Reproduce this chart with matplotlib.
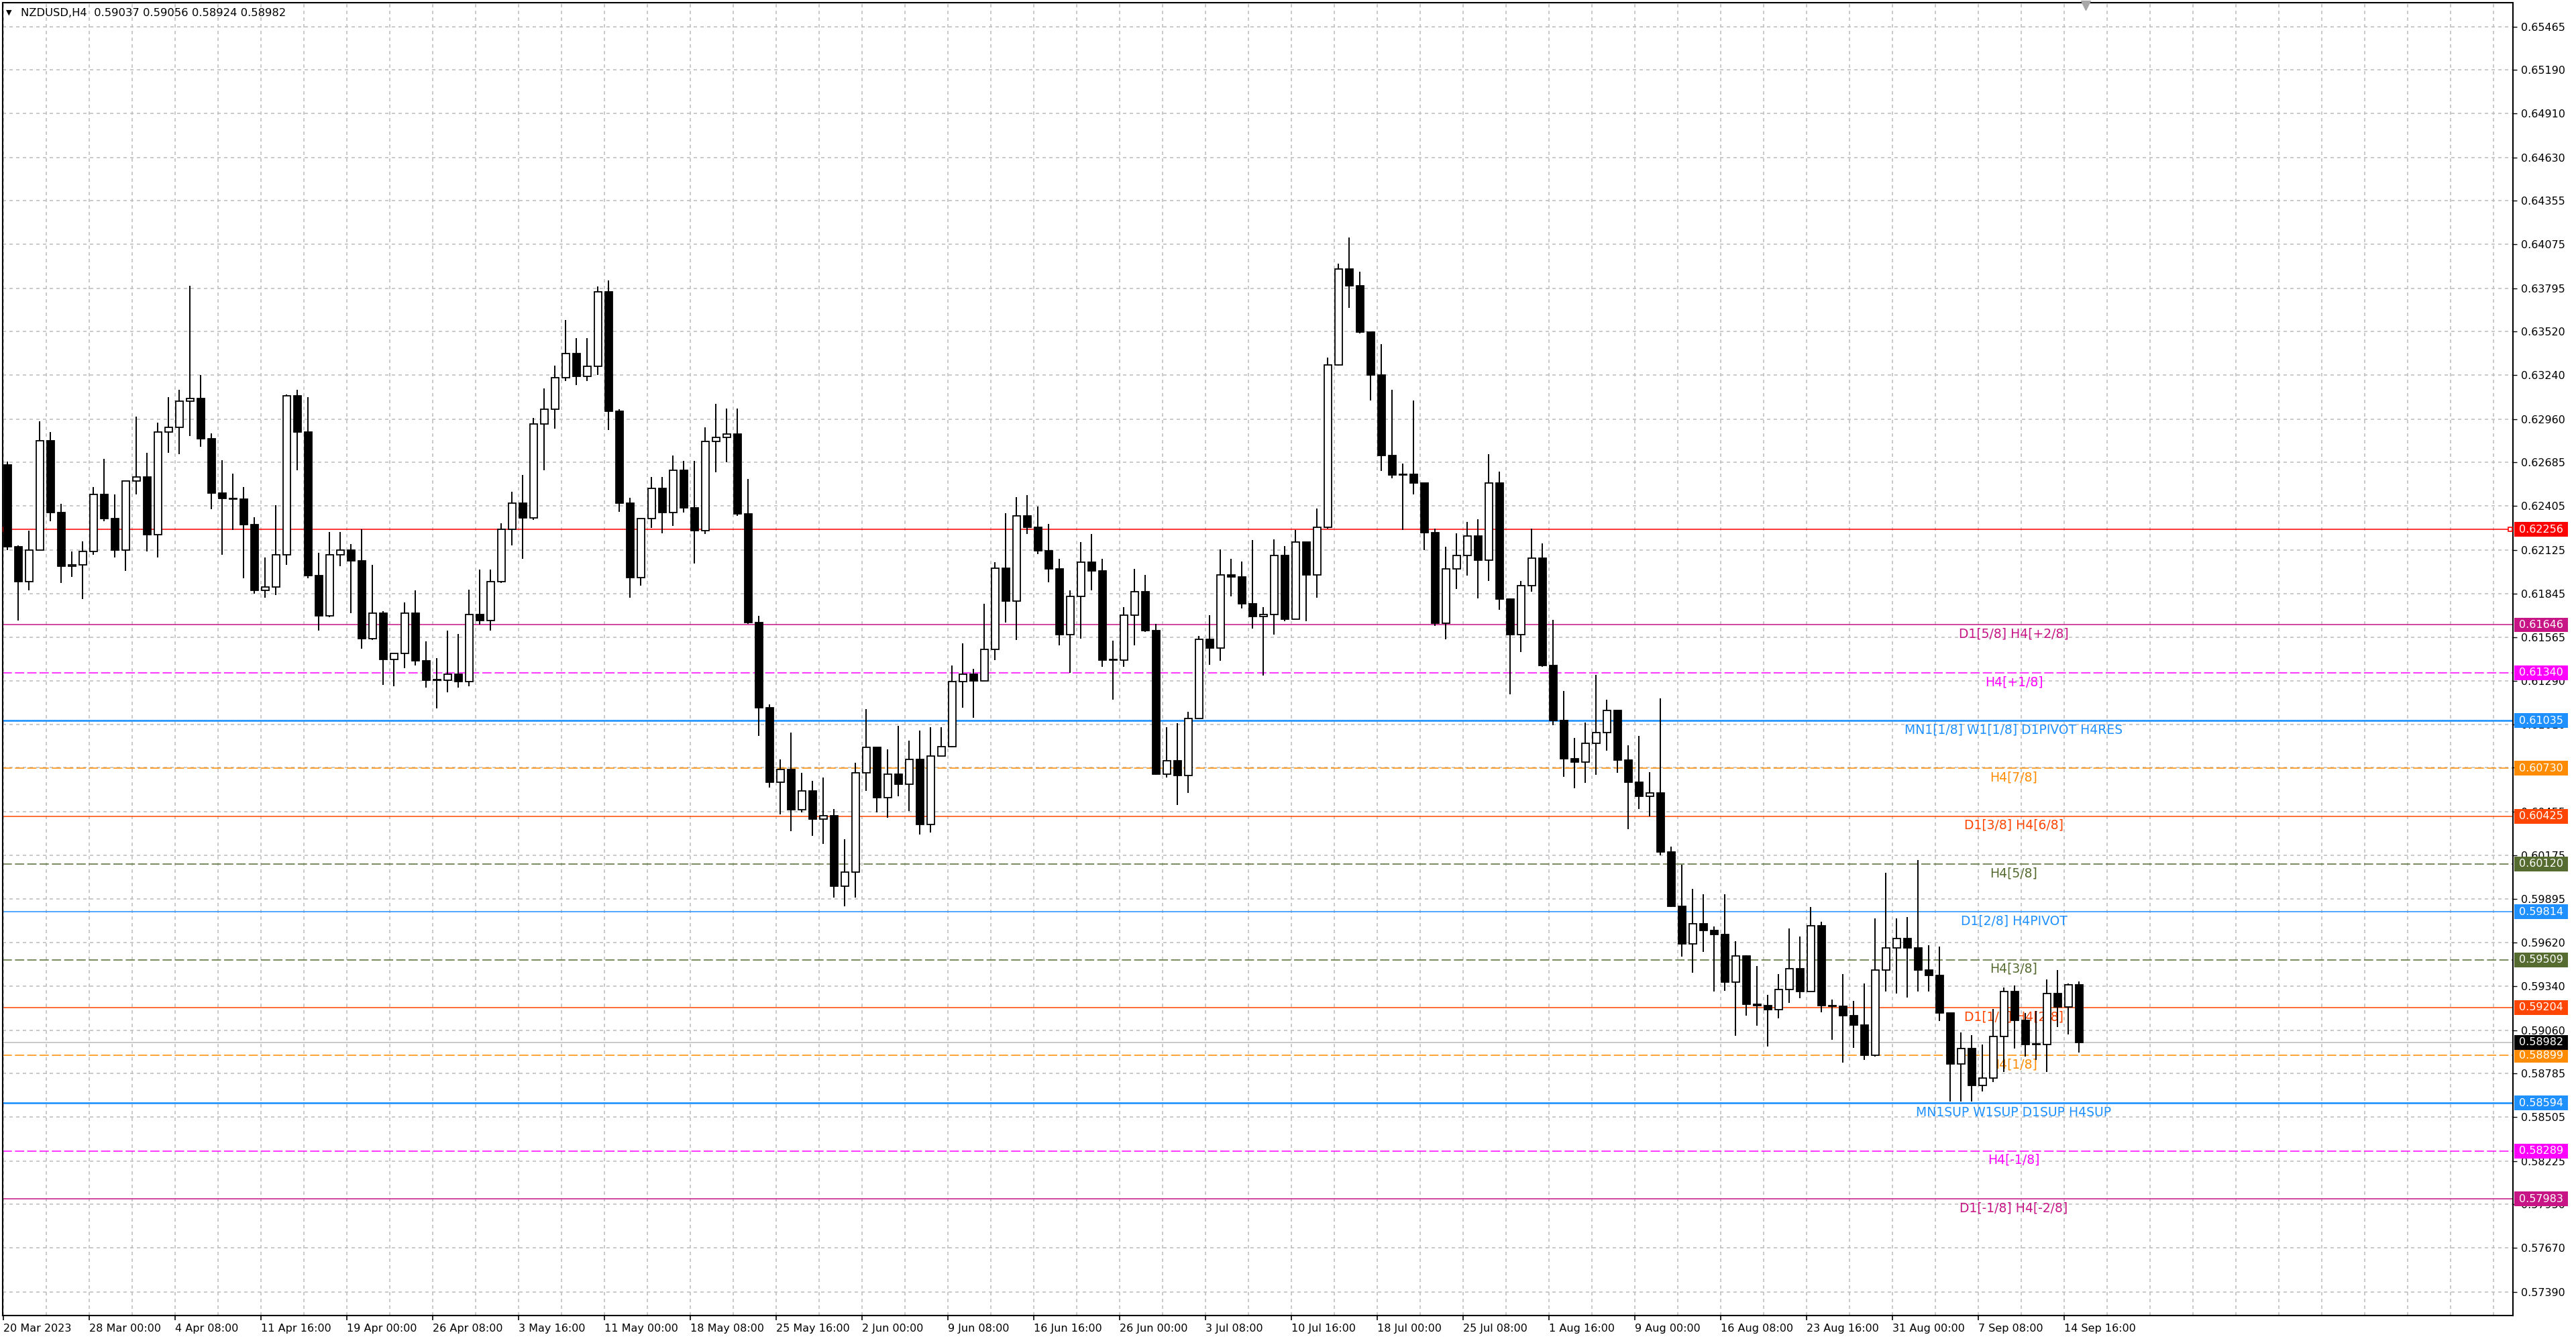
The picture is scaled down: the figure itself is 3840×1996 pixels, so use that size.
import numpy as np
import matplotlib.pyplot as plt
import matplotlib.transforms as mtransforms
from matplotlib.patches import Rectangle

# NZDUSD H4 in 4-bar steps (each step = 16 hours)
first_open = 0.62669

grp_high = [0.62688, 0.62153, 0.62248, 0.62946, 0.62879, 0.62420, 0.62115, 0.62181, 0.62525, 0.62707,
            0.62478, 0.62497, 0.62975, 0.62745, 0.62936, 0.63099, 0.63147, 0.63810, 0.63242, 0.62869,
            0.62697, 0.62611, 0.62525, 0.62334, 0.62076, 0.62411, 0.63118, 0.63147, 0.63099, 0.62105,
            0.62239, 0.62239, 0.62162, 0.62256, 0.62029, 0.61732, 0.61465, 0.61790, 0.61866, 0.61541,
            0.61436, 0.61608, 0.61589, 0.61870, 0.62000, 0.62000, 0.62296, 0.62497, 0.62602, 0.62965,
            0.63156, 0.63299, 0.63590, 0.63475, 0.63475, 0.63806, 0.63844, 0.63022, 0.62459, 0.62296,
            0.62592, 0.62592, 0.62726, 0.62692, 0.62692, 0.62908, 0.63057, 0.63025, 0.63025, 0.62578,
            0.61704, 0.61140, 0.60789, 0.60959, 0.60703, 0.60650, 0.60672, 0.60469, 0.60278, 0.60767,
            0.61108, 0.60746, 0.60853, 0.61002, 0.60906, 0.60970, 0.60991, 0.60991, 0.61389, 0.61530,
            0.61364, 0.61779, 0.62045, 0.62360, 0.62460, 0.62475, 0.62403, 0.62290, 0.62066, 0.61867,
            0.62173, 0.62227, 0.62066, 0.61545, 0.61760, 0.62005, 0.61966, 0.61652, 0.60994, 0.61017,
            0.61093, 0.61576, 0.61706, 0.62127, 0.62066, 0.62051, 0.62189, 0.61760, 0.62192, 0.62150,
            0.62250, 0.62143, 0.62388, 0.63350, 0.63951, 0.64117, 0.63899, 0.63457, 0.63437, 0.63146,
            0.62675, 0.63080, 0.62395, 0.62260, 0.62146, 0.62229, 0.62302, 0.62322, 0.62737, 0.62623,
            0.61814, 0.61928, 0.62260, 0.62167, 0.61679, 0.61224, 0.60923, 0.61022, 0.61328, 0.61167,
            0.61096, 0.60877, 0.60938, 0.60707, 0.61177, 0.60230, 0.60115, 0.59963, 0.59926, 0.59720,
            0.59926, 0.59629, 0.59538, 0.59467, 0.59285, 0.59417, 0.59710, 0.59659, 0.59846, 0.59750,
            0.59255, 0.59417, 0.59245, 0.59356, 0.59771, 0.60064, 0.59771, 0.59783, 0.60147, 0.59600,
            0.59595, 0.59169, 0.59043, 0.59030, 0.58968, 0.59194, 0.59332, 0.59344, 0.59169, 0.59181,
            0.59382, 0.59445, 0.59357, 0.59370]

grp_low = [0.62124, 0.61675, 0.61866, 0.62143, 0.62306, 0.61914, 0.61952, 0.61809, 0.62095, 0.62306,
           0.62076, 0.61990, 0.62478, 0.62115, 0.62076, 0.62745, 0.62736, 0.62850, 0.62783, 0.62386,
           0.62095, 0.62252, 0.61943, 0.61847, 0.61818, 0.61837, 0.62029, 0.62631, 0.61943, 0.61608,
           0.61694, 0.62019, 0.61723, 0.61494, 0.61551, 0.61264, 0.61255, 0.61369, 0.61388, 0.61245,
           0.61111, 0.61216, 0.61245, 0.61255, 0.61646, 0.61608, 0.61914, 0.62153, 0.62067, 0.62315,
           0.62631, 0.62898, 0.63204, 0.63175, 0.63204, 0.63242, 0.62889, 0.62367, 0.61818, 0.61895,
           0.62264, 0.62229, 0.62277, 0.62363, 0.62038, 0.62226, 0.62620, 0.62684, 0.62343, 0.61651,
           0.60938, 0.60608, 0.60437, 0.60331, 0.60448, 0.60299, 0.60246, 0.59905, 0.59852, 0.59905,
           0.60586, 0.60448, 0.60416, 0.60554, 0.60459, 0.60309, 0.60320, 0.60842, 0.60863, 0.61119,
           0.61055, 0.61364, 0.61423, 0.61662, 0.61551, 0.62226, 0.62098, 0.61917, 0.61515, 0.61338,
           0.61560, 0.61867, 0.61377, 0.61170, 0.61377, 0.61515, 0.61599, 0.60687, 0.60672, 0.60496,
           0.60572, 0.61262, 0.61392, 0.61415, 0.61829, 0.61752, 0.61622, 0.61323, 0.61583, 0.61668,
           0.62012, 0.61668, 0.61821, 0.62260, 0.63300, 0.63671, 0.63505, 0.63080, 0.62627, 0.62582,
           0.62250, 0.62478, 0.62125, 0.61638, 0.61555, 0.61876, 0.61959, 0.61814, 0.61928, 0.61741,
           0.61202, 0.61472, 0.61856, 0.61378, 0.61005, 0.60675, 0.60604, 0.60639, 0.60691, 0.60843,
           0.60701, 0.60343, 0.60469, 0.60424, 0.60175, 0.59846, 0.59528, 0.59427, 0.59558, 0.59305,
           0.59311, 0.59022, 0.59154, 0.59089, 0.58955, 0.59133, 0.59235, 0.59265, 0.59305, 0.59174,
           0.58996, 0.58854, 0.58947, 0.58870, 0.58893, 0.59307, 0.59294, 0.59269, 0.59307, 0.59307,
           0.59119, 0.58605, 0.58605, 0.58605, 0.58667, 0.58730, 0.58793, 0.58943, 0.58893, 0.58868,
           0.58793, 0.59081, 0.59031, 0.58918]

grp_close = [0.62143, 0.61923, 0.62124, 0.62822, 0.62363, 0.62019, 0.62029, 0.62115, 0.62478, 0.62325,
             0.62124, 0.62564, 0.62592, 0.62220, 0.62879, 0.62908, 0.63074, 0.63093, 0.62835, 0.62487,
             0.62455, 0.62449, 0.62287, 0.61866, 0.61889, 0.62095, 0.63108, 0.62879, 0.61962, 0.61704,
             0.62095, 0.62124, 0.62057, 0.61560, 0.61723, 0.61427, 0.61465, 0.61723, 0.61417, 0.61293,
             0.61293, 0.61331, 0.61283, 0.61713, 0.61675, 0.61923, 0.62258, 0.62424, 0.62329, 0.62927,
             0.63022, 0.63223, 0.63376, 0.63233, 0.63296, 0.63773, 0.63009, 0.62424, 0.61946, 0.62325,
             0.62516, 0.62363, 0.62631, 0.62392, 0.62248, 0.62816, 0.62844, 0.62865, 0.62354, 0.61662,
             0.61119, 0.60640, 0.60725, 0.60465, 0.60586, 0.60405, 0.60427, 0.59979, 0.60069, 0.60703,
             0.60863, 0.60544, 0.60693, 0.60629, 0.60789, 0.60373, 0.60810, 0.60870, 0.61283, 0.61332,
             0.61289, 0.61491, 0.62007, 0.61800, 0.62343, 0.62269, 0.62120, 0.62003, 0.61583, 0.61829,
             0.62048, 0.61989, 0.61423, 0.61423, 0.61706, 0.61859, 0.61609, 0.60695, 0.60779, 0.60684,
             0.61047, 0.61553, 0.61499, 0.61966, 0.61951, 0.61783, 0.61701, 0.61714, 0.62089, 0.61683,
             0.62173, 0.61966, 0.62268, 0.63304, 0.63916, 0.63812, 0.63516, 0.63240, 0.62727, 0.62603,
             0.62607, 0.62551, 0.62233, 0.61658, 0.62005, 0.62088, 0.62212, 0.62059, 0.62551, 0.61810,
             0.61582, 0.61897, 0.62073, 0.61389, 0.61036, 0.60792, 0.60770, 0.60892, 0.60958, 0.61100,
             0.60782, 0.60641, 0.60554, 0.60574, 0.60196, 0.59852, 0.59609, 0.59740, 0.59696, 0.59670,
             0.59366, 0.59534, 0.59224, 0.59218, 0.59190, 0.59320, 0.59453, 0.59305, 0.59724, 0.59218,
             0.59214, 0.59154, 0.59093, 0.58901, 0.59445, 0.59583, 0.59645, 0.59583, 0.59445, 0.59407,
             0.59169, 0.58843, 0.58943, 0.58705, 0.58755, 0.59018, 0.59307, 0.59124, 0.58968, 0.58968,
             0.59294, 0.59207, 0.59349, 0.58982]

bars_per_step = 4
last_bar = [0.59037, 0.59056, 0.58924, 0.58982]
last_bar_index = 775

date_bars = list(range(0, 769, 32))
date_labels = ['20 Mar 2023', '28 Mar 00:00', '4 Apr 08:00', '11 Apr 16:00', '19 Apr 00:00',
               '26 Apr 08:00', '3 May 16:00', '11 May 00:00', '18 May 08:00', '25 May 16:00',
               '2 Jun 00:00', '9 Jun 08:00', '16 Jun 16:00', '26 Jun 00:00', '3 Jul 08:00',
               '10 Jul 16:00', '18 Jul 00:00', '25 Jul 08:00', '1 Aug 16:00', '9 Aug 00:00',
               '16 Aug 08:00', '23 Aug 16:00', '31 Aug 00:00', '7 Sep 08:00', '14 Sep 16:00']

price_ticks = [0.65465, 0.65190, 0.64910, 0.64630, 0.64355, 0.64075, 0.63795, 0.63520, 0.63240,
               0.62960, 0.62685, 0.62405, 0.62125, 0.61845, 0.61565, 0.61290, 0.61010, 0.60735,
               0.60455, 0.60175, 0.59895, 0.59620, 0.59340, 0.59060, 0.58785, 0.58505, 0.58225,
               0.57950, 0.57670, 0.57390]

# Murrey / pivot levels drawn by the indicator
level_price = [0.62256, 0.61646, 0.61340, 0.61035, 0.60730, 0.60425, 0.60120, 0.59814,
               0.59509, 0.59204, 0.58899, 0.58594, 0.58289, 0.57983]
level_text = ['', 'D1[5/8] H4[+2/8]', 'H4[+1/8]', 'MN1[1/8] W1[1/8] D1PIVOT H4RES', 'H4[7/8]',
              'D1[3/8] H4[6/8]', 'H4[5/8]', 'D1[2/8] H4PIVOT', 'H4[3/8]', 'D1[1/8] H4[2/8]',
              'H4[1/8]', 'MN1SUP W1SUP D1SUP H4SUP', 'H4[-1/8]', 'D1[-1/8] H4[-2/8]']
level_color = ['#ff0000', '#c71585', '#ff00ff', '#1e90ff', '#ff8c00', '#ff4500', '#556b2f',
               '#1e90ff', '#556b2f', '#ff4500', '#ff8c00', '#1e90ff', '#ff00ff', '#c71585']
level_dashed = [False, False, True, False, True, False, True, False, True, False, True, False, True, False]
level_width = [1.1, 1.1, 1.1, 1.9, 1.1, 1.1, 1.1, 1.1, 1.1, 1.1, 1.1, 1.9, 1.1, 1.1]

W, H = 3840, 1996
fig = plt.figure(figsize=(W / 100, H / 100), dpi=100, facecolor='white')
ax = fig.add_axes([4 / W, 35.4 / H, 3742 / W, 1956.6 / H])
ax.set_xlim(-0.3, 935.2)
ax.set_ylim(0.5724, 0.65617)

# grid
ax.set_axisbelow(True)
ax.set_xticks(np.arange(16, 936, 16), minor=True)
ax.grid(True, which='both', axis='x', color='#c0c0c0', linestyle=(0, (3, 3)), lw=1.2)
ax.grid(True, which='major', axis='y', color='#c0c0c0', linestyle=(0, (3, 3)), lw=1.2)

ytrans = mtransforms.blended_transform_factory(ax.transAxes, ax.transData)
box_x0 = 1.0005
box_w = 80 / 3742
box_h = 0.00094


def price_box(p, color, z):
    ax.add_patch(Rectangle((box_x0, p - box_h / 2), box_w, box_h, transform=ytrans,
                           facecolor=color, edgecolor='none', clip_on=False, zorder=z))
    ax.text(box_x0 + box_w / 2, p, f'{p:.5f}', transform=ytrans, ha='center', va='center',
            color='white', fontsize=11.5, clip_on=False, zorder=z + 0.1)


# levels
for p, t, c, d, w in zip(level_price, level_text, level_color, level_dashed, level_width):
    ax.axhline(p, color=c, lw=w, ls=(0, (9, 3)) if d else '-', zorder=2)
    if t:
        ax.annotate(t, (749.2, p), xytext=(0, -3), textcoords='offset points',
                    ha='center', va='top', color=c, fontsize=13.5, zorder=3)
    price_box(p, c, 6)

# selected red line end handles
ax.plot([0.6, 934.3], [level_price[0]] * 2, ls='none', marker='s', ms=5, mfc='white', mec='#ff0000',
        mew=1.2, zorder=3)

# current price
ax.axhline(last_bar[3], color='#c0c0c0', lw=1.2, zorder=2)
price_box(last_bar[3], 'black', 7)

# candles
opens = [first_open] + grp_close[:-1]
xs = np.arange(len(grp_close)) * bars_per_step + 1.5
o = np.array(opens)
c = np.array(grp_close)
hi = np.maximum(np.array(grp_high), np.maximum(o, c))
lo = np.minimum(np.array(grp_low), np.minimum(o, c))
ax.vlines(xs, lo, hi, color='black', lw=1.4, zorder=4)
body_bottom = np.minimum(o, c)
body_h = np.maximum(np.abs(c - o), 0.00004)
face = ['white' if cc >= oo else 'black' for oo, cc in zip(o, c)]
ax.bar(xs, body_h, bottom=body_bottom, width=2.8, color=face, edgecolor='black', lw=1.3, zorder=5)

# axes / ticks
ax.yaxis.tick_right()
ax.set_yticks(price_ticks)
ax.set_yticklabels([f'{v:.5f}' for v in price_ticks])
ax.tick_params(axis='y', which='major', length=4, width=1, pad=4.3, labelsize=11.5, colors='black')
ax.set_xticks(date_bars)
ax.set_xticklabels(date_labels, ha='left')
ax.tick_params(axis='x', which='major', length=5, width=1.2, pad=4, labelsize=11.5)
ax.tick_params(axis='x', which='minor', length=0)
for s in ax.spines.values():
    s.set_color('black')
    s.set_linewidth(1.5)

# header
fig.text(9 / W, 1 - 19 / H, '\u25bc', fontsize=8, va='center', ha='left')
fig.text(31 / W, 1 - 19 / H, 'NZDUSD,H4  ' + ' '.join(f'{v:.5f}' for v in last_bar),
         fontsize=11.8, va='center', ha='left')

# chart shift marker
ax.plot([last_bar_index + 1], [0.998],
        transform=mtransforms.blended_transform_factory(ax.transData, ax.transAxes),
        marker='v', ms=10, color='#a8a8a8', ls='none', clip_on=False, zorder=8)

fig.savefig('out.png', dpi=100, facecolor='white')
